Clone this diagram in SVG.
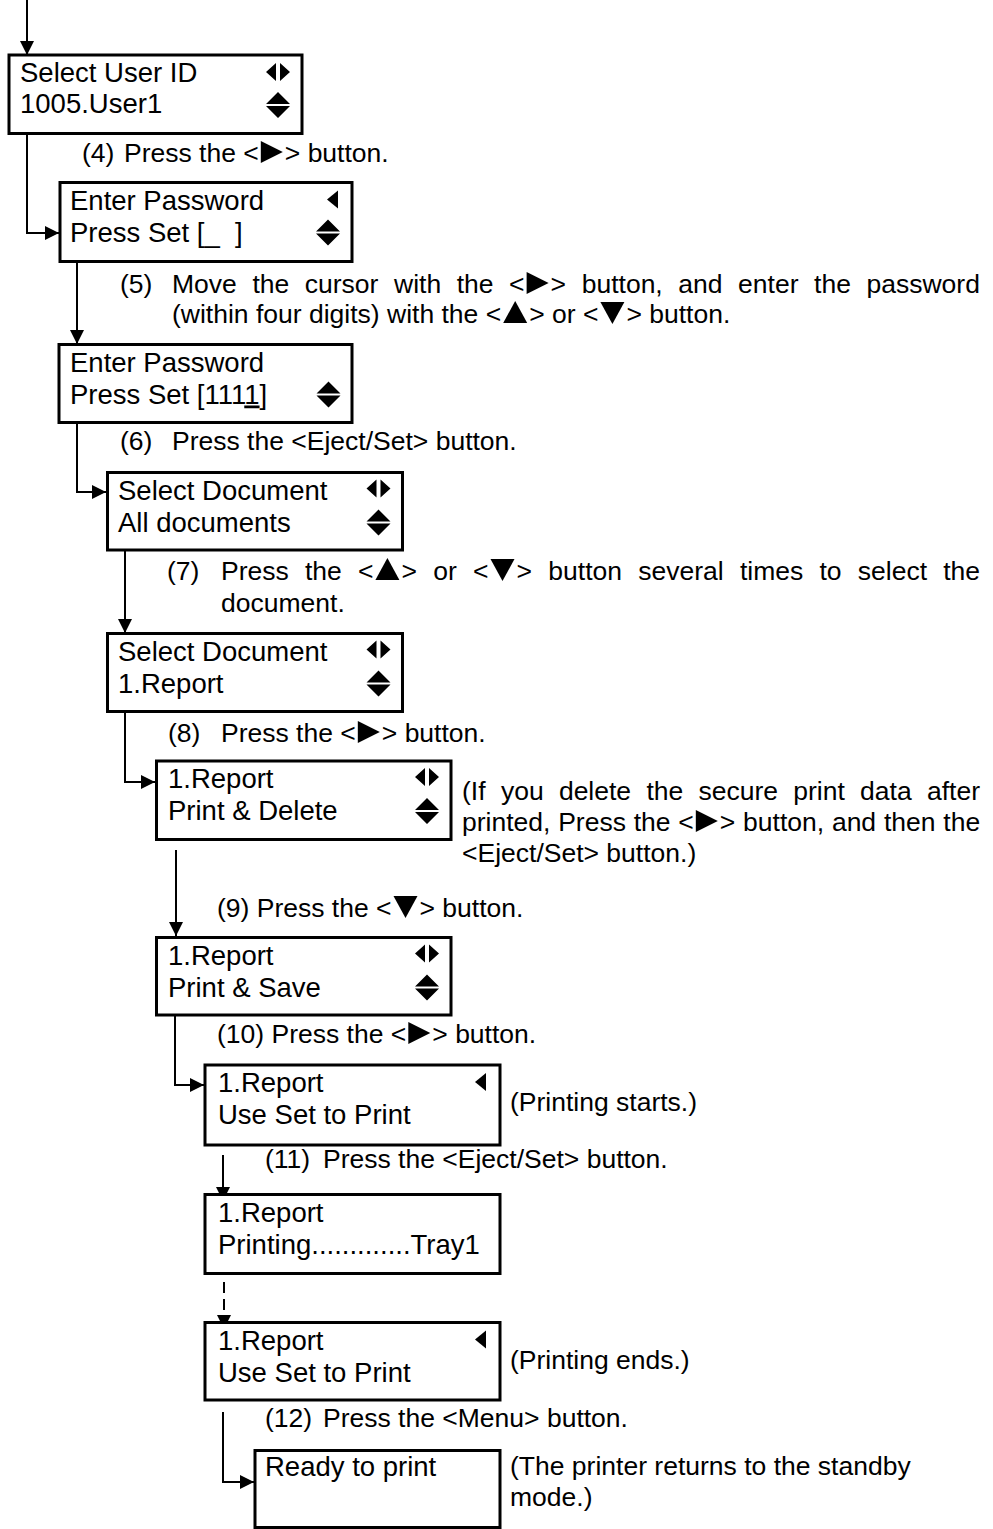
<svg xmlns="http://www.w3.org/2000/svg" xmlns:xlink="http://www.w3.org/1999/xlink" width="993" height="1529" viewBox="0 0 993 1529">
<style>
.bx{fill:#fff;stroke:#000;stroke-width:3}
.t{font-family:"Liberation Sans",Arial,sans-serif;font-size:27.5px;fill:#000}
.s{font-family:"Liberation Sans",Arial,sans-serif;font-size:26.5px;fill:#000}
.c{fill:none;stroke:#000;stroke-width:2}
.d{stroke-dasharray:11 6}
.ic{fill:#000}
</style>
<defs>
<marker id="ah" markerUnits="userSpaceOnUse" markerWidth="14" markerHeight="14" refX="14" refY="7" orient="auto"><path d="M0,0L14,7L0,14z" fill="#000"/></marker>
<path id="lr" d="M0,9L10,0V18z M14,0V18L24,9z"/>
<path id="ud" d="M12,0L0,12H24z M0,14H24L12,26z"/>
<path id="l1" d="M0,9L11,0V18z"/>
<path id="rt" d="M0,0L22,11L0,22z"/>
<path id="up" d="M12,0L24,22H0z"/>
<path id="dn" d="M0,0H24L12,22z"/>
</defs>
<rect width="993" height="1529" fill="#fff"/>

<g id="connectors">
<path class="c" d="M27,0V55" marker-end="url(#ah)"/>
<path class="c" d="M27,133.5V233H59" marker-end="url(#ah)"/>
<path class="c" d="M77,261.5V344" marker-end="url(#ah)"/>
<path class="c" d="M77,422.5V492H106" marker-end="url(#ah)"/>
<path class="c" d="M125,550V633" marker-end="url(#ah)"/>
<path class="c" d="M125,711.5V782H155" marker-end="url(#ah)"/>
<path class="c" d="M176,850V936" marker-end="url(#ah)"/>
<path class="c" d="M175,1015V1085H204" marker-end="url(#ah)"/>
<path class="c" d="M223,1155V1201" marker-end="url(#ah)"/>
<path class="c d" d="M224,1282V1329" marker-end="url(#ah)"/>
<path class="c" d="M223,1412V1482H254" marker-end="url(#ah)"/>
</g>

<g id="n1">
<rect class="bx" x="9" y="55" width="293" height="78.5"/>
<text class="t" x="20" y="82">Select User ID</text>
<text class="t" x="20" y="113">1005.User1</text>
<use href="#lr" class="ic" x="266" y="63"/>
<use href="#ud" class="ic" x="266" y="92"/>
</g>
<g id="n2">
<rect class="bx" x="60" y="182.5" width="292" height="79"/>
<text class="t" x="70" y="209.5">Enter Password</text>
<text class="t" x="70" y="241.5">Press Set [_&#160;&#160;]</text>
<use href="#l1" class="ic" x="327" y="190.5"/>
<use href="#ud" class="ic" x="316" y="219.5"/>
</g>
<g id="n3">
<rect class="bx" x="59" y="344.5" width="293" height="78"/>
<text class="t" x="70" y="371.5">Enter Password</text>
<text class="t" x="70" y="403.5">Press Set [111<tspan style="text-decoration:underline">1</tspan>]</text>
<use href="#ud" class="ic" x="316.5" y="381.5"/>
</g>
<g id="n4">
<rect class="bx" x="107.5" y="472.5" width="295" height="77.5"/>
<text class="t" x="118" y="499.5">Select Document</text>
<text class="t" x="118" y="531.5">All documents</text>
<use href="#lr" class="ic" x="366.5" y="479.5"/>
<use href="#ud" class="ic" x="366.5" y="509.5"/>
</g>
<g id="n5">
<rect class="bx" x="107.5" y="633.5" width="295" height="78"/>
<text class="t" x="118" y="660.5">Select Document</text>
<text class="t" x="118" y="692.5">1.Report</text>
<use href="#lr" class="ic" x="366.5" y="640.5"/>
<use href="#ud" class="ic" x="366.5" y="670.5"/>
</g>
<g id="n6">
<rect class="bx" x="156.5" y="761" width="294.5" height="78.5"/>
<text class="t" x="168" y="788">1.Report</text>
<text class="t" x="168" y="820">Print &amp; Delete</text>
<use href="#lr" class="ic" x="415" y="768"/>
<use href="#ud" class="ic" x="415" y="798"/>
</g>
<g id="n7">
<rect class="bx" x="156.5" y="937.5" width="294.5" height="77.5"/>
<text class="t" x="168" y="964.5">1.Report</text>
<text class="t" x="168" y="996.5">Print &amp; Save</text>
<use href="#lr" class="ic" x="415" y="944.5"/>
<use href="#ud" class="ic" x="415" y="974.5"/>
</g>
<g id="n8">
<rect class="bx" x="205" y="1065" width="295" height="80"/>
<text class="t" x="218" y="1092">1.Report</text>
<text class="t" x="218" y="1124">Use Set to Print</text>
<use href="#l1" class="ic" x="475" y="1073"/>
</g>
<g id="n9">
<rect class="bx" x="205" y="1194.5" width="295" height="79"/>
<text class="t" x="218" y="1221.5">1.Report</text>
<text class="t" x="218" y="1253.5">Printing.............Tray1</text>
</g>
<g id="n10">
<rect class="bx" x="205" y="1322.5" width="295" height="77.5"/>
<text class="t" x="218" y="1349.5">1.Report</text>
<text class="t" x="218" y="1381.5">Use Set to Print</text>
<use href="#l1" class="ic" x="475" y="1330.5"/>
</g>
<g id="n11">
<rect class="bx" x="255" y="1450.5" width="245" height="77"/>
<text class="t" x="265" y="1476">Ready to print</text>
</g>

<g id="steps">
<text class="s" x="82" y="162">(4)</text>
<text class="s" x="124" y="162">Press the &lt;</text>
<use href="#rt" class="ic" x="260.8" y="141"/>
<text class="s" x="284.8" y="162">&gt; button.</text>

<text class="s" x="120" y="293">(5)</text>
<text class="s" y="293"><tspan x="172">Move</tspan><tspan x="252.4">the</tspan><tspan x="304.8">cursor</tspan><tspan x="394">with</tspan><tspan x="456.7">the</tspan><tspan x="509.1">&lt;</tspan><tspan x="550.6">&gt;</tspan><tspan x="581.7">button,</tspan><tspan x="678.3">and</tspan><tspan x="738.1">enter</tspan><tspan x="814.1">the</tspan><tspan x="866.5">password</tspan></text>
<use href="#rt" class="ic" x="526.6" y="272"/>
<text class="s" x="172" y="323">(within four digits) with the &lt;</text>
<use href="#up" class="ic" x="503.2" y="301"/>
<text class="s" x="529.2" y="323">&gt; or &lt;</text>
<use href="#dn" class="ic" x="600.4" y="302"/>
<text class="s" x="626.4" y="323">&gt; button.</text>

<text class="s" x="120" y="450">(6)</text>
<text class="s" x="172" y="450">Press the &lt;Eject/Set&gt; button.</text>

<text class="s" x="167" y="580">(7)</text>
<text class="s" y="580"><tspan x="221">Press</tspan><tspan x="304.9">the</tspan><tspan x="357.9">&lt;</tspan><tspan x="401.4">&gt;</tspan><tspan x="433.2">or</tspan><tspan x="473">&lt;</tspan><tspan x="516.5">&gt;</tspan><tspan x="548.3">button</tspan><tspan x="638.2">several</tspan><tspan x="739.9">times</tspan><tspan x="819.4">to</tspan><tspan x="857.8">select</tspan><tspan x="943.2">the</tspan></text>
<use href="#up" class="ic" x="375.4" y="558"/>
<use href="#dn" class="ic" x="490.5" y="559"/>
<text class="s" x="221" y="612">document.</text>

<text class="s" x="168" y="742">(8)</text>
<text class="s" x="221" y="742">Press the &lt;</text>
<use href="#rt" class="ic" x="357.8" y="721"/>
<text class="s" x="381.8" y="742">&gt; button.</text>

<text class="s" x="217" y="917">(9) Press the &lt;</text>
<use href="#dn" class="ic" x="393.5" y="896"/>
<text class="s" x="419.5" y="917">&gt; button.</text>

<text class="s" x="217" y="1043">(10) Press the &lt;</text>
<use href="#rt" class="ic" x="408.3" y="1022"/>
<text class="s" x="432.3" y="1043">&gt; button.</text>

<text class="s" x="265" y="1168">(11)</text>
<text class="s" x="323" y="1168">Press the &lt;Eject/Set&gt; button.</text>

<text class="s" x="265" y="1427">(12)</text>
<text class="s" x="323" y="1427">Press the &lt;Menu&gt; button.</text>
</g>

<g id="notes">
<text class="s" y="800"><tspan x="462">(If</tspan><tspan x="500.9">you</tspan><tspan x="558.9">delete</tspan><tspan x="646.4">the</tspan><tspan x="698.5">secure</tspan><tspan x="793.3">print</tspan><tspan x="860.1">data</tspan><tspan x="927">after</tspan></text>
<text class="s" y="831"><tspan x="462">printed,</tspan><tspan x="558.2">Press</tspan><tspan x="633.7">the</tspan><tspan x="678.3">&lt;</tspan><tspan x="719.8">&gt;</tspan><tspan x="743.1">button,</tspan><tspan x="831.9">and</tspan><tspan x="883.9">then</tspan><tspan x="943.3">the</tspan></text>
<use href="#rt" class="ic" x="695.8" y="810"/>
<text class="s" x="462" y="862">&lt;Eject/Set&gt; button.)</text>
<text class="s" x="510" y="1111">(Printing starts.)</text>
<text class="s" x="510" y="1369">(Printing ends.)</text>
<text class="s" x="510" y="1475">(The printer returns to the standby</text>
<text class="s" x="510" y="1506">mode.)</text>
</g>
</svg>
